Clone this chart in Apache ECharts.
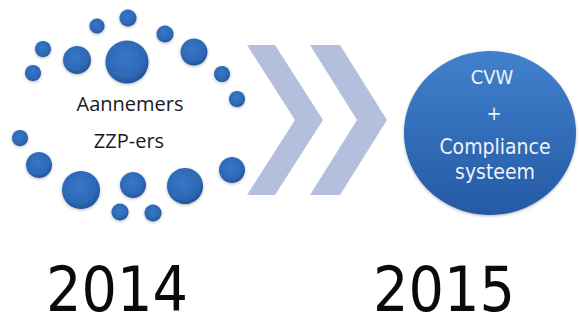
<!DOCTYPE html>
<html>
<head>
<meta charset="utf-8">
<script src="https://cdn.jsdelivr.net/npm/echarts@6/dist/echarts.min.js"></script>
<style>html,body{margin:0;padding:0;background:#fff}#c{width:580px;height:326px}</style>
</head>
<body>
<div id="c"></div>
<script>
// Small dots around "Aannemers / ZZP-ers": [x, y, diameter]
var dotX = [128, 97, 165, 43, 77, 127, 194, 33, 222, 237, 20, 39, 81, 133, 185, 232, 120, 153];
var dotY = [18, 26, 34, 49, 60, 62, 52, 73, 74, 99, 138, 165, 190, 185, 186, 170, 212, 213];
var dotD = [17, 15, 17, 16, 28, 43, 27, 16, 16, 16, 16, 26, 38, 26, 36, 26, 17, 17];

// Chevrons: [left x, tip x, top y, bottom y, band width]
var chevLeft = [247, 310];
var chevTip = [323, 387];
var chevTop = [45, 45];
var chevBottom = [195, 195];
var chevBand = [28, 30];

// Big circle
var bigX = [490];
var bigY = [133];
var bigW = [172];
var bigH = [164];

// Texts
var textLabels = ['Aannemers', 'ZZP-ers', 'CVW', '+', 'Compliance\nsysteem', '2014', '2015'];
var textX = [130, 129, 492, 494, 495, 117, 444];
var textY = [103, 140, 77, 113, 159.5, 289.5, 289.5];
var textSize = [20, 20, 20, 20, 21, 62, 62];
var textLineHeight = [24, 24, 24, 24, 25, 62, 62];
var textColor = ['#1a1a24', '#1a1a24', '#eef2fa', '#eef2fa', '#eef2fa', '#0a0a0a', '#0a0a0a'];
var textFont = ['Open Sans', 'Open Sans', 'DejaVu Sans Condensed', 'DejaVu Sans Condensed', 'DejaVu Sans Condensed', 'DejaVu Sans Condensed', 'DejaVu Sans Condensed'];

var chart = echarts.init(document.getElementById('c'), null, {renderer: 'svg'});

var dotData = dotX.map(function (x, i) { return [x, dotY[i], dotD[i]]; });
var chevData = chevLeft.map(function (x, i) { return [x, chevTip[i], chevTop[i], chevBottom[i], chevBand[i]]; });
var bigData = bigX.map(function (x, i) { return [x, bigY[i], bigW[i], bigH[i]]; });
var textData = textLabels.map(function (t, i) {
  return {
    value: [textX[i], textY[i]],
    label: {
      show: true, position: 'inside', formatter: t, align: 'center',
      fontSize: textSize[i], lineHeight: textLineHeight[i],
      color: textColor[i], fontFamily: textFont[i]
    }
  };
});

chart.setOption({
  animation: false,
  grid: {left: 0, right: 0, top: 0, bottom: 0},
  xAxis: {type: 'value', min: 0, max: 580, show: false},
  yAxis: {type: 'value', min: 0, max: 326, inverse: true, show: false},
  series: [
    {
      type: 'custom',
      data: chevData,
      renderItem: function (params, api) {
        var l = api.value(0), tip = api.value(1), t = api.value(2), b = api.value(3), w = api.value(4);
        var mid = (t + b) / 2;
        var pts = [[l, t], [l + w, t], [tip, mid], [l + w, b], [l, b], [tip - w, mid]].map(function (p) {
          return api.coord(p);
        });
        return {type: 'polygon', shape: {points: pts}, style: {fill: '#b3bfdd'}};
      },
      z: 1
    },
    {
      type: 'scatter',
      data: dotData,
      symbol: 'circle',
      symbolSize: function (v) { return v[2]; },
      itemStyle: {
        opacity: 1,
        color: {
          type: 'radial', x: 0.45, y: 0.4, r: 0.6,
          colorStops: [{offset: 0, color: '#3777c6'}, {offset: 0.75, color: '#2d68b6'}, {offset: 1, color: '#21539a'}]
        },
        shadowBlur: 3, shadowColor: 'rgba(0,0,0,0.3)', shadowOffsetY: 1
      },
      z: 2
    },
    {
      type: 'scatter',
      data: bigData,
      symbol: 'circle',
      symbolSize: function (v) { return [v[2], v[3]]; },
      itemStyle: {
        opacity: 1,
        color: {
          type: 'linear', x: 0, y: 0, x2: 0, y2: 1,
          colorStops: [{offset: 0, color: '#4181cc'}, {offset: 1, color: '#2459a5'}]
        },
        shadowBlur: 3, shadowColor: 'rgba(0,0,0,0.3)', shadowOffsetY: 1
      },
      z: 2
    },
    {
      type: 'scatter',
      data: textData,
      symbolSize: 0,
      itemStyle: {color: 'transparent', opacity: 1},
      z: 3
    }
  ]
});
</script>
</body>
</html>
